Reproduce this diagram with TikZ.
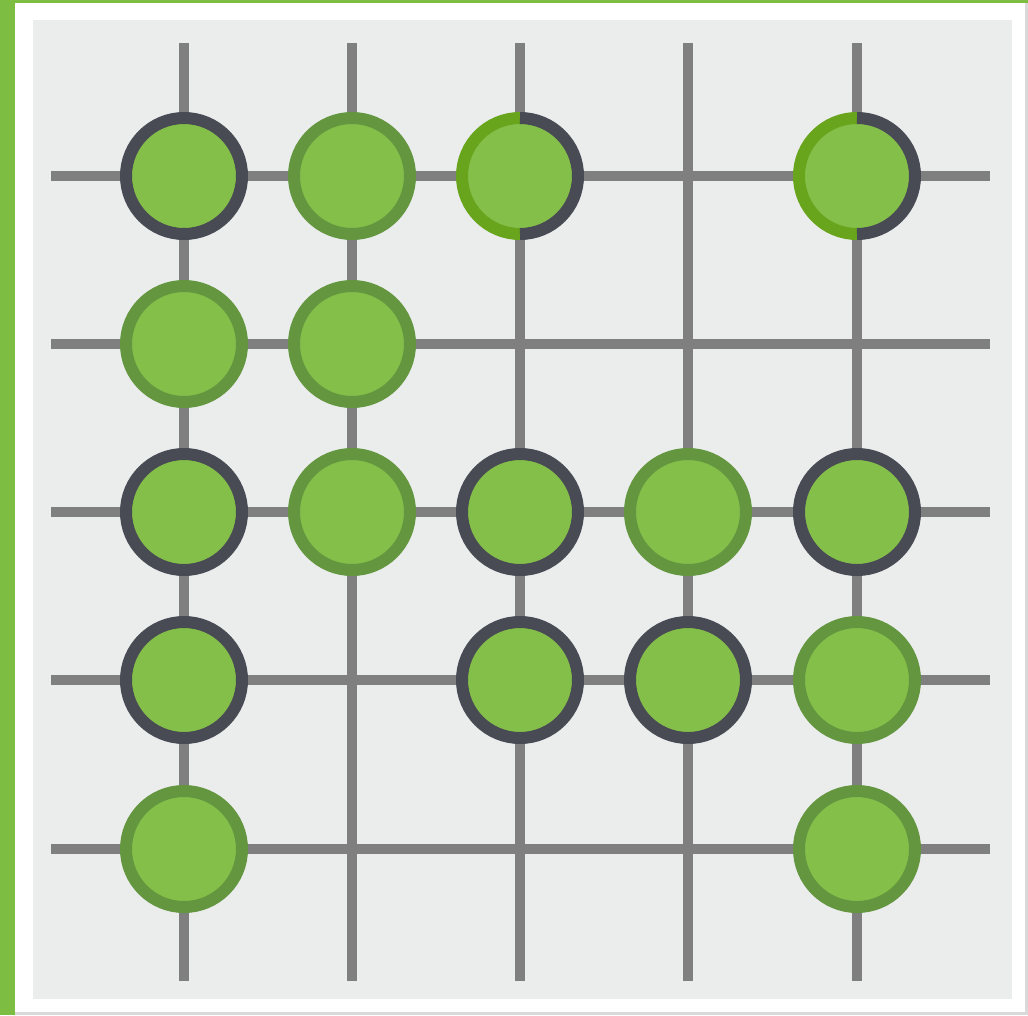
\documentclass[tikz,border=0pt]{standalone}
\definecolor{barg}{HTML}{7DBD42}
\definecolor{panel}{HTML}{EBECEC}
\definecolor{gridc}{HTML}{7F7F7F}
\definecolor{fillg}{HTML}{84BF4A}
\definecolor{ringg}{HTML}{649640}
\definecolor{ringd}{HTML}{484A54}
\definecolor{ringb}{HTML}{68A51C}
\definecolor{edgec}{HTML}{D9D9D9}
\tikzset{
  stone/.style={circle, fill=fillg, minimum size=87pt, inner sep=0pt, line width=9pt},
  gstone/.style={stone, draw=ringg},
  dstone/.style={stone, draw=ringd},
  hstone/.style={stone},
  gridline/.style={gridc, line width=7pt},
}
\begin{document}
\begin{tikzpicture}[x=0.75pt,y=-0.75pt]
\useasboundingbox (0,0) rectangle (1028,1015);
\fill[white] (0,0) rectangle (1028,1015);
\fill[barg] (0,0) rectangle (15,1015);
\fill[barg] (0,0) rectangle (1028,2.5);
\fill[edgec] (15,1012) rectangle (1028,1015);
\fill[edgec] (1025,2.5) rectangle (1028,1015);
\fill[panel] (33,20) rectangle (1012,999);
% grid
\foreach \i/\v in {1/184,2/352,3/520,4/688,5/857} {
  \coordinate (top\i) at (\v,43);
  \coordinate (bot\i) at (\v,981);
  \draw[gridline] (top\i) -- (bot\i);
}
\foreach \j/\v in {1/176,2/344,3/512,4/680,5/849} {
  \coordinate (lft\j) at (51,\v);
  \coordinate (rgt\j) at (990,\v);
  \draw[gridline] (lft\j) -- (rgt\j);
}
% stones
\node[dstone] (n11) at (184,176) {};
\node[gstone] (n21) at (352,176) {};
\node[hstone] (n31) at (520,176) {};
\node[hstone] (n51) at (857,176) {};
\node[gstone] (n12) at (184,344) {};
\node[gstone] (n22) at (352,344) {};
\node[dstone] (n13) at (184,512) {};
\node[gstone] (n23) at (352,512) {};
\node[dstone] (n33) at (520,512) {};
\node[gstone] (n43) at (688,512) {};
\node[dstone] (n53) at (857,512) {};
\node[dstone] (n14) at (184,680) {};
\node[dstone] (n34) at (520,680) {};
\node[dstone] (n44) at (688,680) {};
\node[gstone] (n54) at (857,680) {};
\node[gstone] (n15) at (184,849) {};
\node[gstone] (n55) at (857,849) {};
% half rings
\foreach \n in {n31,n51} {
  \draw[ringb, line width=9pt] ([yshift=-43.5pt]\n.center) arc[start angle=90, end angle=270, radius=58];
  \draw[ringd, line width=9pt] ([yshift=43.5pt]\n.center) arc[start angle=270, end angle=450, radius=58];
}
\end{tikzpicture}
\end{document}
